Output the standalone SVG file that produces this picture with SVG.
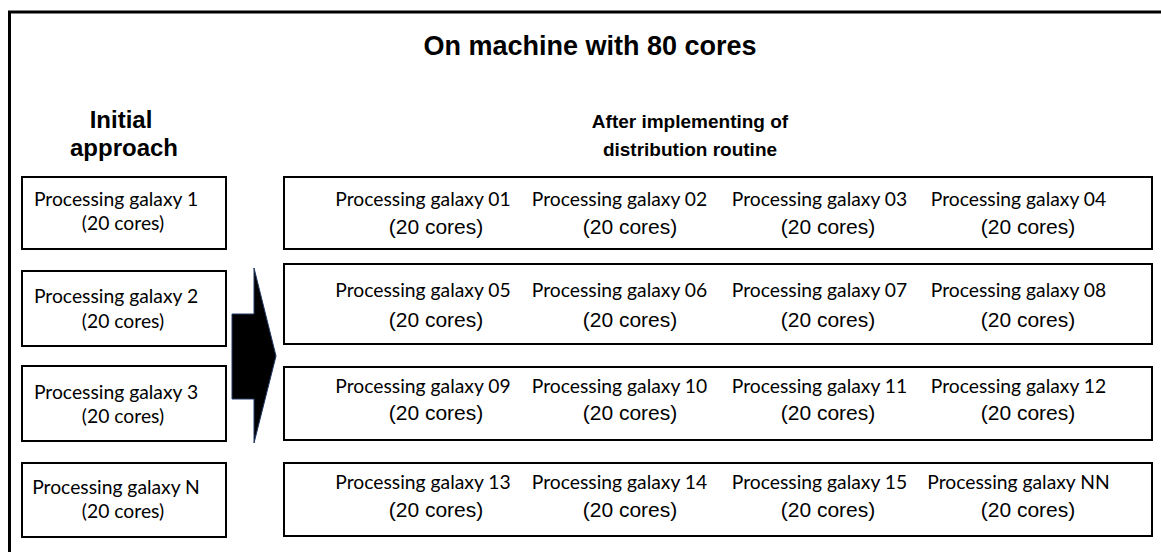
<svg xmlns="http://www.w3.org/2000/svg" width="1161" height="552" viewBox="0 0 1161 552">
<style>
.box{fill:#fff;stroke:#000;stroke-width:2}
.cal{font-family:Lato,"Open Sans",sans-serif;font-size:19.3px;fill:#000;text-anchor:middle}
.ari{font-family:"Liberation Sans",Arial,sans-serif;font-size:21px;fill:#000;text-anchor:middle}
.hd{font-family:"Liberation Sans",Arial,sans-serif;font-weight:bold;fill:#000;text-anchor:middle}
</style>
<rect x="0" y="0" width="1161" height="552" fill="#fff"/>
<rect id="frame" x="9.5" y="12" width="1170" height="570" fill="none" stroke="#000" stroke-width="3"/>
<text class="hd" x="590" y="55" font-size="27">On machine with 80 cores</text>
<g id="head-left">
<text class="hd" x="121" y="128" font-size="24">Initial</text>
<text class="hd" x="124" y="156" font-size="24">approach</text>
</g>
<g id="head-right">
<text class="hd" x="690" y="128" font-size="19">After implementing of</text>
<text class="hd" x="690" y="156" font-size="19">distribution routine</text>
</g>
<g id="left1"><rect class="box" x="22" y="177" width="204" height="72"/>
<text class="cal" x="116" y="206">Processing galaxy 1</text><text class="cal" x="123" y="230">(20 cores)</text></g>
<g id="left2"><rect class="box" x="22" y="271" width="204" height="75"/>
<text class="cal" x="116" y="303">Processing galaxy 2</text><text class="cal" x="123" y="328">(20 cores)</text></g>
<g id="left3"><rect class="box" x="22" y="366" width="204" height="75"/>
<text class="cal" x="116" y="399">Processing galaxy 3</text><text class="cal" x="123" y="423">(20 cores)</text></g>
<g id="leftN"><rect class="box" x="22" y="463" width="204" height="74"/>
<text class="cal" x="116" y="494">Processing galaxy N</text><text class="cal" x="123" y="518">(20 cores)</text></g>
<g id="connectors">
<polygon points="232,314 254,314 254,268 276,356 254,443 254,399 232,399" fill="#000" stroke="#1f3864" stroke-width="1"/>
</g>
<g id="row1"><rect class="box" x="284" y="177" width="868" height="72"/>
<text class="cal" x="423" y="206">Processing galaxy 01</text><text class="cal" x="619.5" y="206">Processing galaxy 02</text><text class="cal" x="819.5" y="206">Processing galaxy 03</text><text class="cal" x="1018.5" y="206">Processing galaxy 04</text>
<text class="ari" x="436" y="234">(20 cores)</text><text class="ari" x="630" y="234">(20 cores)</text><text class="ari" x="828" y="234">(20 cores)</text><text class="ari" x="1028" y="234">(20 cores)</text></g>
<g id="row2"><rect class="box" x="284" y="264" width="868" height="80"/>
<text class="cal" x="423" y="297">Processing galaxy 05</text><text class="cal" x="619.5" y="297">Processing galaxy 06</text><text class="cal" x="819.5" y="297">Processing galaxy 07</text><text class="cal" x="1018.5" y="297">Processing galaxy 08</text>
<text class="ari" x="436" y="327">(20 cores)</text><text class="ari" x="630" y="327">(20 cores)</text><text class="ari" x="828" y="327">(20 cores)</text><text class="ari" x="1028" y="327">(20 cores)</text></g>
<g id="row3"><rect class="box" x="284" y="367" width="868" height="73"/>
<text class="cal" x="423" y="393">Processing galaxy 09</text><text class="cal" x="619.5" y="393">Processing galaxy 10</text><text class="cal" x="819.5" y="393">Processing galaxy 11</text><text class="cal" x="1018.5" y="393">Processing galaxy 12</text>
<text class="ari" x="436" y="420">(20 cores)</text><text class="ari" x="630" y="420">(20 cores)</text><text class="ari" x="828" y="420">(20 cores)</text><text class="ari" x="1028" y="420">(20 cores)</text></g>
<g id="row4"><rect class="box" x="284" y="463" width="868" height="73"/>
<text class="cal" x="423" y="489">Processing galaxy 13</text><text class="cal" x="619.5" y="489">Processing galaxy 14</text><text class="cal" x="819.5" y="489">Processing galaxy 15</text><text class="cal" x="1018.5" y="489">Processing galaxy NN</text>
<text class="ari" x="436" y="517">(20 cores)</text><text class="ari" x="630" y="517">(20 cores)</text><text class="ari" x="828" y="517">(20 cores)</text><text class="ari" x="1028" y="517">(20 cores)</text></g>
</svg>
